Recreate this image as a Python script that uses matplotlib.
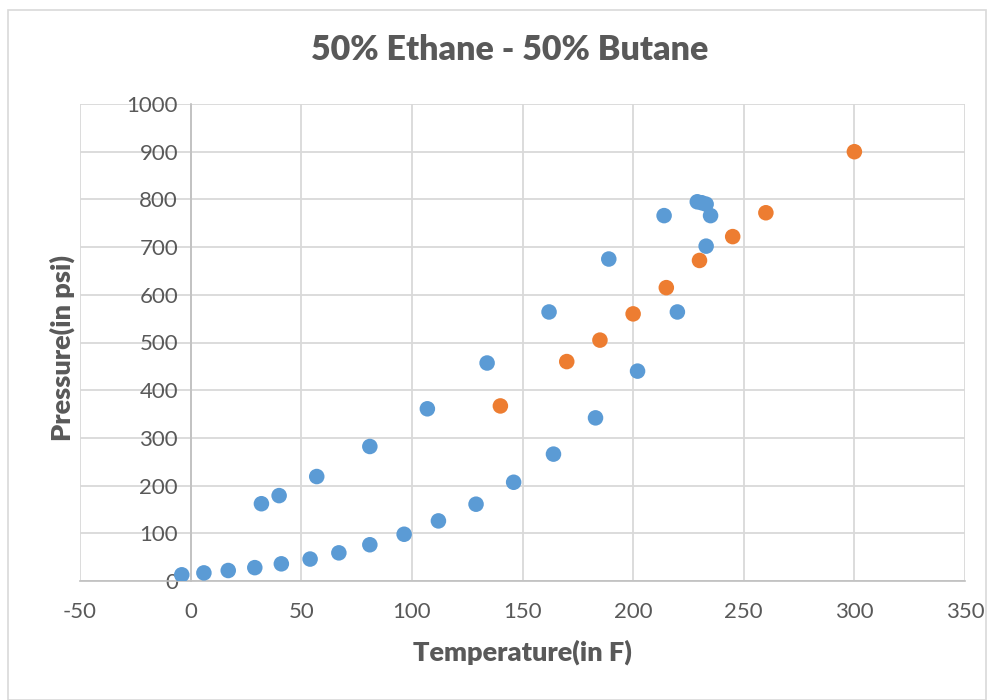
import matplotlib.pyplot as plt
from matplotlib.patches import Rectangle

# Phase envelope points (blue) and measured points (orange)
envelope_temp = [-4, 6, 17, 29, 41, 54, 67, 81, 96.5, 112, 129, 146, 164, 183, 202,
                 220, 233, 235, 233, 231, 229, 214, 189, 162, 134, 107, 81, 57, 40, 32]
envelope_pres = [13, 17, 22, 28, 36, 46, 59, 76, 98, 126, 161, 207, 266, 342, 440,
                 564, 702, 766, 790, 793, 795, 766, 675, 564, 457, 361, 282, 219, 179, 162]

measured_temp = [140, 170, 185, 200, 215, 230, 245, 260, 300]
measured_pres = [367, 460, 505, 560, 615, 672, 722, 772, 900]

x_ticks = [-50, 0, 50, 100, 150, 200, 250, 300, 350]
y_ticks = [0, 100, 200, 300, 400, 500, 600, 700, 800, 900, 1000]

plt.rcParams['font.family'] = ['Lato', 'DejaVu Sans']
plt.rcParams['axes.unicode_minus'] = False
text_color = '#595959'
grid_color = '#D9D9D9'

fig = plt.figure(figsize=(10.01, 7.0), dpi=100)
ax = fig.add_axes([80 / 1001, 1 - 581 / 700, (965 - 80) / 1001, (581 - 104) / 700])

# light frame round the whole chart area
fig.patches.append(Rectangle((8 / 1001, 0), 978 / 1001, 690 / 700, transform=fig.transFigure,
                             fill=False, edgecolor=grid_color, linewidth=1.2))

ax.scatter(envelope_temp, envelope_pres, s=125, color='#5B9BD5', edgecolors='none', zorder=3)
ax.scatter(measured_temp, measured_pres, s=125, color='#ED7D31', edgecolors='none', zorder=3)

ax.set_xlim(-50, 350)
ax.set_ylim(0, 1000)
ax.set_xticks(x_ticks)
ax.set_yticks(y_ticks)
ax.grid(True, color=grid_color, linewidth=1.3)
ax.set_axisbelow(True)

# vertical axis crosses at x = 0, like a spreadsheet chart
ax.spines['left'].set_position(('data', 0))
ax.spines['left'].set_color('#BFBFBF')
ax.spines['left'].set_linewidth(1.2)
ax.spines['bottom'].set_color('#BFBFBF')
ax.spines['bottom'].set_linewidth(1.2)
ax.spines['top'].set_visible(False)
ax.spines['right'].set_visible(False)

ax.tick_params(axis='x', length=0, pad=15, labelsize=16, labelcolor=text_color)
ax.tick_params(axis='y', length=0, pad=9, labelsize=16, labelcolor=text_color)

fig.text(510 / 1001, 1 - 50 / 700, '50% Ethane - 50% Butane', ha='center', va='center',
         fontsize=24.5, fontweight='heavy', color=text_color)
fig.text(522 / 1001, 1 - 652 / 700, 'Temperature(in F)', ha='center', va='center',
         fontsize=19.5, fontweight='heavy', color=text_color)
fig.text(62 / 1001, 1 - 348 / 700, 'Pressure(in psi)', ha='center', va='center',
         rotation=90, fontsize=19.5, fontweight='heavy', color=text_color)

fig.savefig('out.png', dpi=100)
